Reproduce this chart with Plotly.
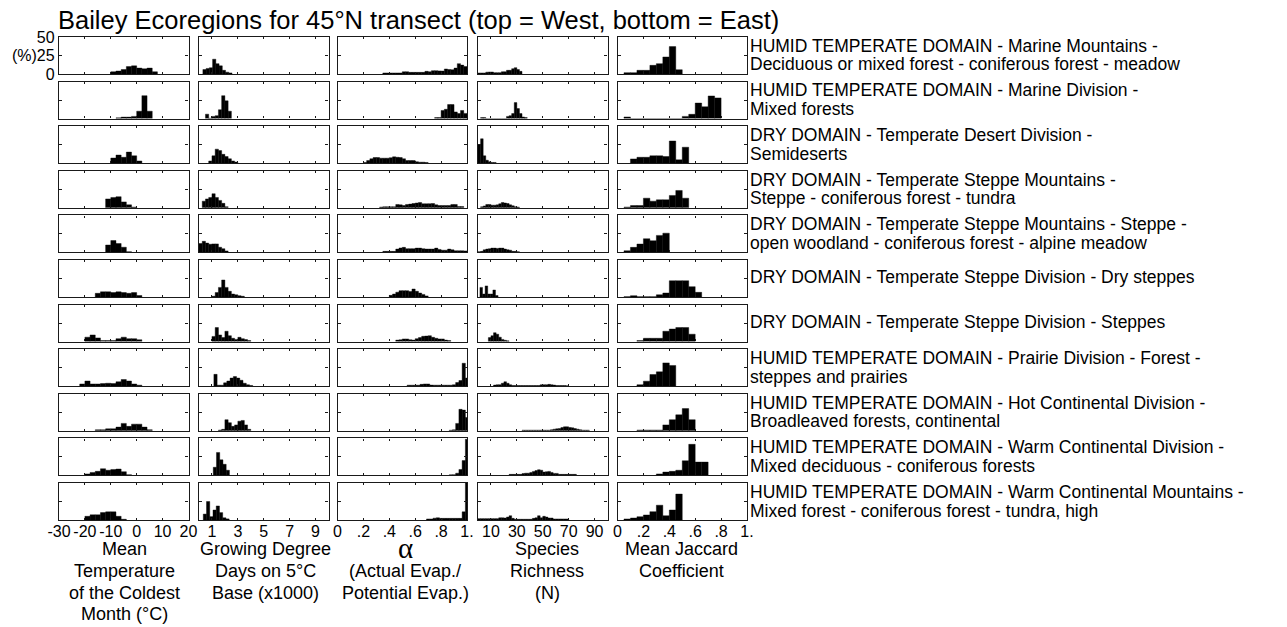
import plotly.graph_objects as go

# ---------------- data (percent of cells per bin) ----------------
row_labels_1 = [
    "HUMID TEMPERATE DOMAIN - Marine Mountains -",
    "HUMID TEMPERATE DOMAIN - Marine Division -",
    "DRY DOMAIN - Temperate Desert Division -",
    "DRY DOMAIN - Temperate Steppe Mountains -",
    "DRY DOMAIN - Temperate Steppe Mountains - Steppe -",
    "DRY DOMAIN - Temperate Steppe Division - Dry steppes",
    "DRY DOMAIN - Temperate Steppe Division - Steppes",
    "HUMID TEMPERATE DOMAIN - Prairie Division - Forest -",
    "HUMID TEMPERATE DOMAIN - Hot Continental Division -",
    "HUMID TEMPERATE DOMAIN - Warm Continental Division -",
    "HUMID TEMPERATE DOMAIN - Warm Continental Mountains -",
]
row_labels_2 = [
    "Deciduous or mixed forest - coniferous forest - meadow",
    "Mixed forests",
    "Semideserts",
    "Steppe - coniferous forest - tundra",
    "open woodland - coniferous forest - alpine meadow",
    "",
    "",
    "steppes and prairies",
    "Broadleaved forests, continental",
    "Mixed deciduous - coniferous forests",
    "Mixed forest - coniferous forest - tundra, high",
]

# Mean temperature of the coldest month (deg C), bin = 2
temp_bin = 2
temp_start = [-10, -8, -10, -12, -12, -16, -20, -22, -16, -20, -20]
temp_pct = [
    [3, 4, 6, 10, 11, 8, 7, 8, 3],
    [1, 2, 2, 3, 10, 31, 10],
    [7, 11, 8, 15, 10, 3],
    [12, 14, 15, 8, 4, 1],
    [10, 16, 12, 7, 1],
    [5, 7, 7, 6, 7, 6, 5, 6, 2],
    [6, 9, 5, 1.5, 1.5, 1.5, 4, 6, 4, 4, 2.5],
    [3, 7, 3, 3, 3.5, 4, 3.6, 6, 9, 7, 3, 1.4],
    [1.4, 1.4, 2.7, 2.7, 5, 10, 6, 9, 9, 5, 1.5],
    [2, 4, 5.5, 9, 7, 8, 8.6, 5, 1],
    [5, 7, 7, 10, 11, 11, 5, 1],
]

# Growing degree days (x1000), bin = 0.25
gdd_bin = 0.25
gdd_start = [0.3, 0.5, 0.75, 0.25, 0.0, 1.0, 1.0, 1.15, 1.5, 1.1, 0.33]
gdd_pct = [
    [6, 7.5, 8.5, 20, 14, 11, 5, 2.5, 1.5],
    [6, 0.5, 3, 4, 12, 31, 24, 10],
    [3, 10, 19, 17, 12, 9, 6, 3, 1.5],
    [9, 12, 14, 19, 14, 10, 6, 1.5],
    [12, 15, 12.6, 11, 11.5, 11.5, 7, 5, 2],
    [1, 6, 13, 23, 13, 7.7, 4, 3, 1.8, 1],
    [7, 19, 9, 5.4, 14, 8, 4.5, 3, 5.8, 4, 2.7, 1.4],
    [16, 1.4, 1.4, 4.5, 7, 11, 13, 11, 8, 4, 2, 1],
    [1, 2, 15, 11, 6, 8, 13, 14, 8, 2],
    [11, 31, 21, 15, 7],
    [8, 25, 4.5, 13.5, 19, 10, 3, 1.5],
]

# alpha = actual / potential evapotranspiration, bin = 0.025
alpha_bin = 0.025
alpha_start = [0.35, 0.75, 0.2, 0.325, 0.35, 0.4, 0.45, 0.5375, 0.8625, 0.8625, 0.6875]
alpha_pct = [
    [1.4, 1.4, 1.4, 1.4, 1.4, 1.4, 3, 3, 2.2, 2.2, 2.2, 2.2, 2.2,
     3.6, 3, 4.5, 4.5, 4.2, 4, 6.8, 6, 5.8, 8, 14, 12, 10],
    [1.4, 1.4, 11, 12.6, 19, 19, 9, 6.8, 11, 7],
    [1, 3.6, 6, 7.7, 7.7, 6.8, 6.8, 6.8, 7.5, 8.6, 8, 7.7, 6, 3.6, 3.6, 3.6, 2, 1.4, 1.4, 1],
    [1, 1.4, 1.4, 1.4, 1.4, 4.5, 4, 3, 4.5, 5, 5.8, 6.5, 7.2, 5.4, 5.4, 5.6, 5.8, 4,
     3, 3, 3, 3, 4.5, 4.5, 1.8, 1.8],
    [1.4, 1.4, 1.4, 1.4, 4.5, 6, 6.8, 5, 5, 5, 5.8, 5.8, 5, 4.5, 4.5, 4.5, 5.8, 4,
     3, 3, 4.5, 3.5, 2.2, 2.2, 2.2, 2],
    [2.2, 4, 6.5, 8.6, 8.6, 8.6, 7.5, 10.8, 7.7, 5.4, 3.5, 1.5],
    [2, 2.5, 3.6, 3.6, 2.5, 2, 4, 5.4, 7.2, 7.5, 8, 5.8, 4.5, 3.6, 3.6, 2, 1.4],
    [1.4, 1.4, 1.4, 1.4, 2.5, 3, 3, 1.5, 1.4, 1.4, 1.4, 1.4, 1.4, 1.4, 2, 5, 7.7, 31, 11],
    [0.8, 1.4, 10, 29, 28, 18],
    [0.8, 1, 3, 8, 20, 49],
    [1.4, 1.4, 2.5, 3, 2.2, 2.2, 2.2, 2.2, 2.2, 2.2, 2.2, 11, 50],
]

# Species richness (N), bin = 2
rich_bin = 2
rich_start = [0, 2, 0, 2, 0, 1.5, 8, 12, 34, 24, 0]
rich_pct = [
    [1.4, 1.4, 1.4, 2.5, 2.7, 2.7, 1.8, 1.8, 1.8, 3, 3, 5, 5, 7.2, 8.6, 6, 3.6],
    [1.4, 1.4, 0, 0, 0, 0, 0, 0, 0, 0, 3, 4, 6.8, 21.6, 13.5, 6.8, 2.2, 1.5],
    [25, 33, 10, 4, 2, 1, 1],
    [1.4, 2.5, 4.5, 4.5, 3.6, 3.6, 4, 5.4, 7.2, 6.5, 5.8, 4, 2.7, 1.5, 1],
    [1, 1.4, 3.5, 4.5, 5, 5.8, 5.8, 5.4, 5.8, 5.8, 4.5, 3.6, 3, 1.4, 1.4, 1],
    [13, 4, 15, 4, 4, 9.5, 2],
    [5.4, 8, 12, 10, 6, 3, 1.8, 1],
    [1.5, 2, 2, 4, 6, 4, 2, 1, 0.8, 0.8, 0.8, 0.8, 0.8, 0.8, 0.8, 0.8, 0.8, 0.8,
     2, 2, 2, 2.5, 2, 1.5, 0.8, 0.8, 0.8, 0.8, 0.5],
    [0.9, 0.9, 0.9, 0.9, 0.9, 0.9, 0.9, 0.9, 0.9, 0.9, 0.9, 1.5, 2.2, 2.7, 3, 4.5,
     5.4, 5.4, 4.5, 4, 3, 2.2, 1.5, 0.9, 0.9, 0.9],
    [1.4, 1.4, 1.4, 1.4, 1.4, 2.5, 3, 3, 4, 5.4, 6.5, 7.7, 7, 4.5, 5, 5.4, 4, 2.7,
     2.7, 1.4, 1.4, 1.4, 1.4, 1.4, 1.4, 1.4],
    [1.8, 1.8, 1.8, 1.8, 1.8, 1.8, 1.8, 1.8, 3, 3, 2.7, 4, 5.8, 2.2, 1, 1, 1, 1, 1,
     1, 1, 2.2, 3, 5.8, 3, 5, 4, 2.7, 2.7, 1.4, 1.4, 1.4, 1.4, 1.4, 1.4],
]

# Mean Jaccard coefficient, bin = 0.05
jac_bin = 0.05
jac_start = [0.05, 0.05, 0.1, 0.05, 0.05, 0.05, 0.15, 0.15, 0.15, 0.3, 0.05]
jac_pct = [
    [1.8, 1.8, 5, 5, 11.7, 14, 23, 37, 5.8],
    [2.2, 0, 0, 0, 0, 0, 0, 0, 0, 3, 5.8, 21, 16, 30.6, 28],
    [5.8, 8, 8, 10, 10, 9, 30, 4.5, 21.6],
    [1, 3, 3, 13, 9, 10.8, 10.8, 16.7, 23.4, 13],
    [2.2, 6.8, 11.3, 18.5, 15.8, 23, 26],
    [0.5, 1.8, 0.3, 0.3, 0.3, 3, 5.4, 22, 22, 22, 14, 6.3],
    [1.4, 4.5, 4.5, 4.5, 14, 17, 19, 19, 10],
    [2, 6.8, 15.8, 19.4, 31.5, 28],
    [1, 1, 1, 1, 8, 15, 21.6, 30, 15],
    [2, 4.5, 5.5, 7, 19.8, 42, 18, 18],
    [1.4, 2.7, 4.5, 6.8, 11.3, 20, 5.8, 13.5, 35],
]

# axes
x_ranges = [[-30, 20], [0, 10], [0, 1], [0, 100], [0, 1]]
x_tickvals = [[-30, -20, -10, 0, 10, 20], [1, 3, 5, 7, 9],
              [0, 0.2, 0.4, 0.6, 0.8, 1.0], [10, 30, 50, 70, 90],
              [0, 0.2, 0.4, 0.6, 0.8, 1.0]]
x_ticktext = [["-30", "-20", "-10", "0", "10", "20"], ["1", "3", "5", "7", "9"],
              ["0", ".2", ".4", ".6", ".8", "1."], ["10", "30", "50", "70", "90"],
              ["0", ".2", ".4", ".6", ".8", "1."]]
y_tickvals = [0, 25, 50]
y_ticktext = ["0", "(%)25", "50"]

col_titles = [
    ["Mean", "Temperature", "of the Coldest", "Month (°C)"],
    ["Growing Degree", "Days on 5°C", "Base (x1000)"],
    ["α", "(Actual Evap./", "Potential Evap.)"],
    ["Species", "Richness", "(N)"],
    ["Mean Jaccard", "Coefficient"],
]
title_text = "Bailey Ecoregions for 45°N transect (top = West, bottom = East)"

# ---------------- layout geometry (screen pixels) ----------------
# figure kept a few pixels smaller than the window so the page never overflows
W, H = 1280, 625
col_left = [59, 199, 337.5, 478, 617.5]
col_w = 129.5
row_top0, row_step, row_h = 37, 44.6, 37
FONT = "Liberation Sans, Arial, Helvetica, sans-serif"

def px(x):
    return x / W

def py(y):
    return 1 - y / H

columns = [
    (temp_start, temp_pct, temp_bin),
    (gdd_start, gdd_pct, gdd_bin),
    (alpha_start, alpha_pct, alpha_bin),
    (rich_start, rich_pct, rich_bin),
    (jac_start, jac_pct, jac_bin),
]

fig = go.Figure()
layout = {}
n_rows = 11
for r in range(n_rows):
    top = row_top0 + r * row_step
    for c in range(5):
        k = r * 5 + c + 1
        xs = "" if k == 1 else str(k)
        starts, pcts, bw = columns[c]
        vals = pcts[r]
        centers = [starts[r] + bw * (i + 0.5) for i in range(len(vals))]
        fig.add_trace(go.Bar(
            x=centers, y=vals, width=bw,
            marker=dict(color="black", line=dict(color="black", width=0.4)),
            xaxis="x" + xs, yaxis="y" + xs,
            showlegend=False, hoverinfo="skip",
        ))
        layout["xaxis" + xs] = dict(
            domain=[px(col_left[c]), px(col_left[c] + col_w)],
            anchor="y" + xs, range=x_ranges[c],
            showline=True, mirror="ticks", linecolor="#1a1a1a", linewidth=1.3,
            ticks="inside", ticklen=2, tickcolor="#1a1a1a", tickwidth=1,
            tickvals=x_tickvals[c], ticktext=x_ticktext[c],
            showticklabels=(r == n_rows - 1), ticklabelstandoff=-3,
            tickfont=dict(family=FONT, size=16, color="black"),
            showgrid=False, zeroline=False, fixedrange=True, automargin=False,
        )
        layout["yaxis" + xs] = dict(
            domain=[py(top + row_h), py(top)],
            anchor="x" + xs, range=[0, 50],
            showline=True, mirror="ticks", linecolor="#1a1a1a", linewidth=1.3,
            ticks="inside", ticklen=3, tickcolor="#1a1a1a", tickwidth=1,
            tickvals=y_tickvals, ticktext=y_ticktext,
            showticklabels=(r == 0 and c == 0),
            tickfont=dict(family=FONT, size=16, color="black"),
            showgrid=False, zeroline=False, fixedrange=True, automargin=False,
        )

annotations = []
annotations.append(dict(
    text=title_text, x=px(56), y=py(20), xref="paper", yref="paper",
    xanchor="left", yanchor="middle", showarrow=False,
    font=dict(family=FONT, size=25.5, color="black"),
))

for r in range(n_rows):
    center = row_top0 + r * row_step + row_h / 2
    if row_labels_2[r]:
        lines = [(row_labels_1[r], center - 9.8), (row_labels_2[r], center + 9.0)]
    else:
        lines = [(row_labels_1[r], center - 1)]
    for txt, yy in lines:
        annotations.append(dict(
            text=txt, x=px(748), y=py(yy), xref="paper", yref="paper",
            xanchor="left", yanchor="middle", showarrow=False,
            font=dict(family=FONT, size=17.5, color="black"),
        ))

title_x = [124, 265, 405, 547, 681]
title_y = [549, 571, 592.5, 613.5]
for c in range(5):
    for i, txt in enumerate(col_titles[c]):
        if txt == "α":
            f = dict(family="Liberation Serif, Times New Roman, serif", size=29, color="black")
            yy = title_y[i] - 1
        else:
            f = dict(family=FONT, size=18, color="black")
            yy = title_y[i]
        annotations.append(dict(
            text=txt, x=px(title_x[c]), y=py(yy), xref="paper", yref="paper",
            xanchor="center", yanchor="middle", showarrow=False, font=f,
        ))

layout["annotations"] = annotations
fig.update_layout(
    width=W, height=H, autosize=False,
    margin=dict(l=0, r=0, t=0, b=0, pad=0),
    paper_bgcolor="white", plot_bgcolor="white",
    barmode="overlay", showlegend=False,
    font=dict(family=FONT, color="black"),
    **layout,
)
fig.write_html("out.html", config={"displayModeBar": False})
